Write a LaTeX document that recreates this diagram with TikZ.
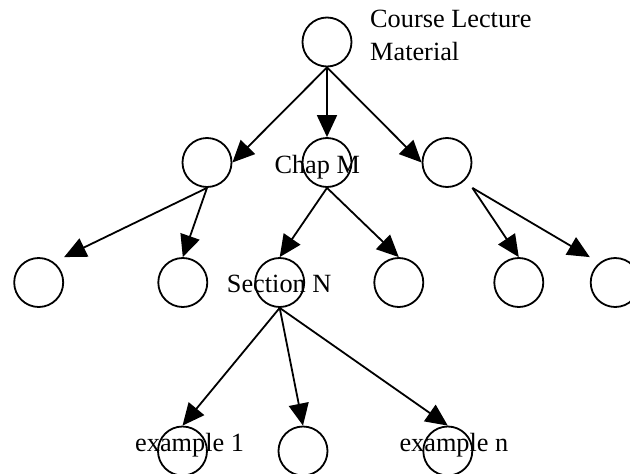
\documentclass[tikz,border=0pt]{standalone}
\usepackage{fontspec}
\setmainfont{Liberation Serif}
\usetikzlibrary{arrows.meta}
\begin{document}
\begin{tikzpicture}[x=1pt,y=-1pt,
  circ/.style={circle,draw,line width=1.8pt,minimum size=49pt,inner sep=0pt},
  lbl/.style={anchor=base west,inner sep=0pt,font=\fontsize{26.3}{32}\selectfont},
  conn/.style={line width=1.8pt,-{Triangle[length=22pt,width=20pt]}}]
\useasboundingbox (0,0) rectangle (630,474);
% nodes
\node[circ] (root) at (327,42) {};
\node[circ] (a) at (207,162.5) {};
\node[circ] (b) at (327,162.5) {};
\node[circ] (c) at (447,162.5) {};
\node[circ] (d1) at (38.7,282.5) {};
\node[circ] (d2) at (182.8,282.5) {};
\node[circ] (d3) at (279.7,282.5) {};
\node[circ] (d4) at (398.8,282.5) {};
\node[circ] (d5) at (518.8,282.5) {};
\node[circ] (d6) at (615.2,282.5) {};
\node[circ] (e1) at (182.5,451) {};
\node[circ] (e2) at (303,451) {};
\node[circ] (e3) at (447.8,451) {};
% labels
\node[lbl] (l1) at (370,27.3) {Course Lecture};
\node[lbl] (l2) at (370,60) {Material};
\node[lbl] (l3) at (274.3,173.3) {Chap M};
\node[lbl] (l4) at (226.7,292.7) {Section N};
\node[lbl] (l5) at (135,451.7) {example 1};
\node[lbl] (l6) at (399.3,451.7) {example n};
% connectors
\draw[conn] (root.south) -- (a.east);
\draw[conn] (root.south) -- (b.north);
\draw[conn] (root.south) -- (c.west);
\draw[conn] (a.south) -- (d1.east |- d1.north);
\draw[conn] (a.south) -- (d2.north);
\draw[conn] (b.south) -- (d3.north);
\draw[conn] (b.south) -- (d4.north);
\draw[conn] (c.east |- c.south) -- (d5.north);
\draw[conn] (c.east |- c.south) -- (d6.west |- d6.north);
\draw[conn] (d3.south) -- (e1.north);
\draw[conn] (d3.south) -- (e2.north);
\draw[conn] (d3.south) -- (e3.north);
\end{tikzpicture}
\end{document}
